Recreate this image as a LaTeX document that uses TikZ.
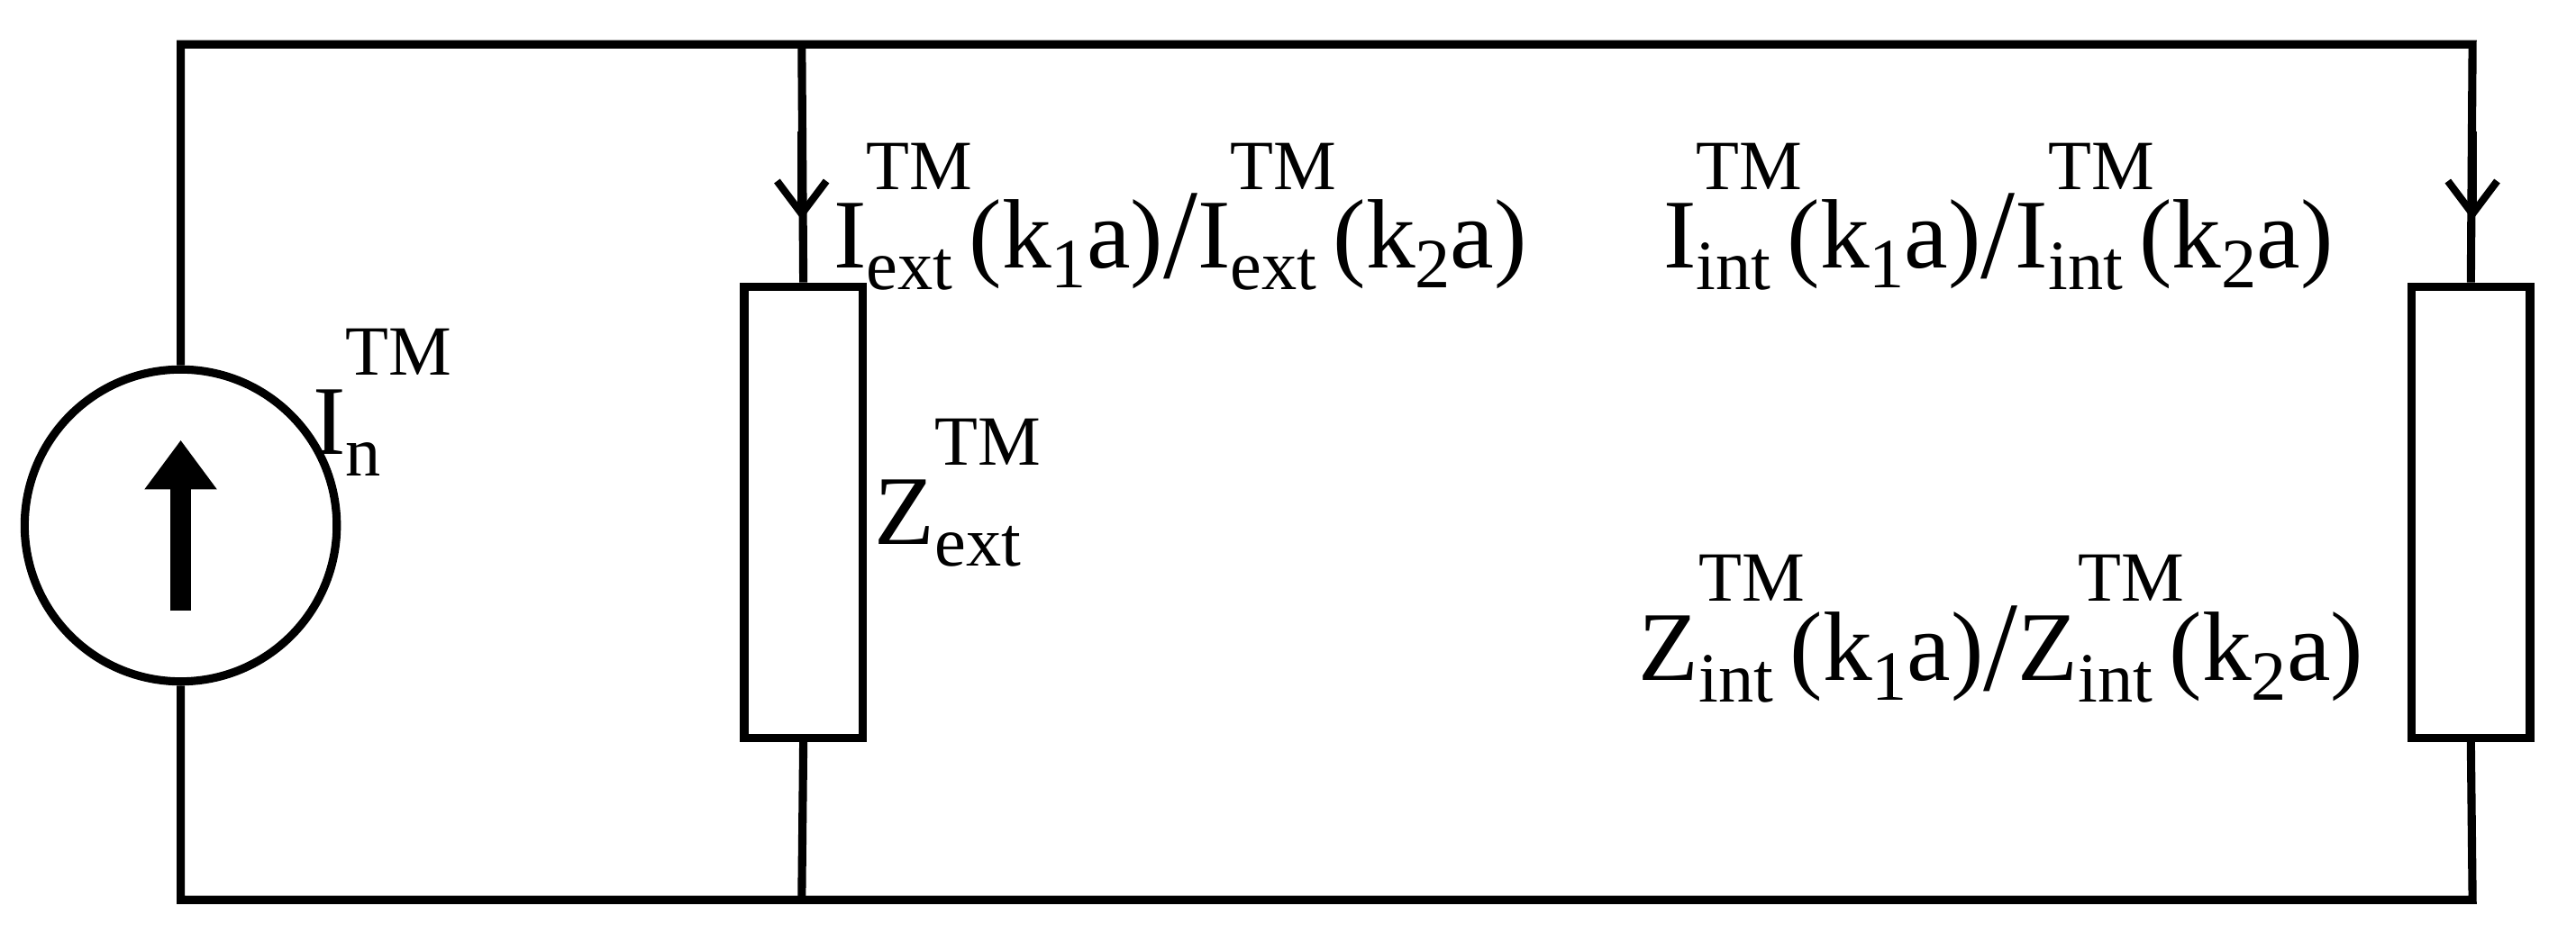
\documentclass[tikz,border=0pt]{standalone}
\usepackage{fontspec}
\setmainfont{Liberation Serif}
\usetikzlibrary{arrows.meta}
\newcommand{\sm}{\fontsize{43}{46}\selectfont}
\newcommand{\ssx}[2]{\rlap{\raisebox{0.8em}{\sm #1}}\raisebox{-0.22em}{\sm #2}}
\newcommand{\kk}[1]{(k\raisebox{-0.2em}{\sm #1}a)}
\newcommand{\bsl}{\raisebox{-0.1em}{\scalebox{1.25}[1.3]{/}}}
\begin{document}
\begin{tikzpicture}[x=1pt,y=-1pt,line width=5pt,
  wire/.style={line width=5pt},
  res/.style={draw,line width=5pt,minimum width=72pt,minimum height=275pt,inner sep=0pt},
  lbl/.style={font=\fontsize{60}{64}\selectfont,inner sep=0pt},
  flow/.style={-{Straight Barb[length=20pt,width=30pt,line width=4.5pt]}}]
\useasboundingbox (0,0) rectangle (1568,579);
\coordinate (tl) at (110,27); \coordinate (tm) at (488,27); \coordinate (tr) at (1505,27);
\coordinate (bl) at (110,548); \coordinate (bm) at (488,548); \coordinate (br) at (1505,548);
\node[circle,draw,line width=5pt,minimum size=190pt,inner sep=0pt] (src) at (110,320) {};
\node[res] (rz) at (489,312) {};
\node[res] (ri) at (1504,312) {};
\draw[wire] (src.north) -- (tl) -- (tr) -- (ri.north);
\draw[wire] (src.south) -- (bl) -- (br) -- (ri.south);
\draw[wire] (tm) -- (rz.north);
\draw[wire] (rz.south) -- (bm);
\coordinate (a1) at (488,80); \coordinate (a1e) at (488,134);
\draw[flow] (a1) -- (a1e);
\coordinate (a2) at (1505,80); \coordinate (a2e) at (1505,134);
\draw[flow] (a2) -- (a2e);
\coordinate (s1) at (110,372); \coordinate (s2) at (110,268);
\draw[line width=13pt,-{Triangle[length=30pt,width=42pt]}] (s1) -- (s2);
\node[lbl,anchor=west] (ln) at (188,245) {I\ssx{TM}{n}};
\node[lbl,anchor=west] (le) at (505,132) {I\ssx{TM}{ext}\,\kk{1}\bsl I\ssx{TM}{ext}\,\kk{2}};
\node[lbl,anchor=west] (li) at (1010,132) {I\ssx{TM}{int}\,\kk{1}\bsl I\ssx{TM}{int}\,\kk{2}};
\node[lbl,anchor=west] (lz) at (530,300) {Z\ssx{TM}{ext}};
\node[lbl,anchor=west] (lzi) at (995,383) {Z\ssx{TM}{int}\,\kk{1}\bsl Z\ssx{TM}{int}\,\kk{2}};
\end{tikzpicture}
\end{document}
